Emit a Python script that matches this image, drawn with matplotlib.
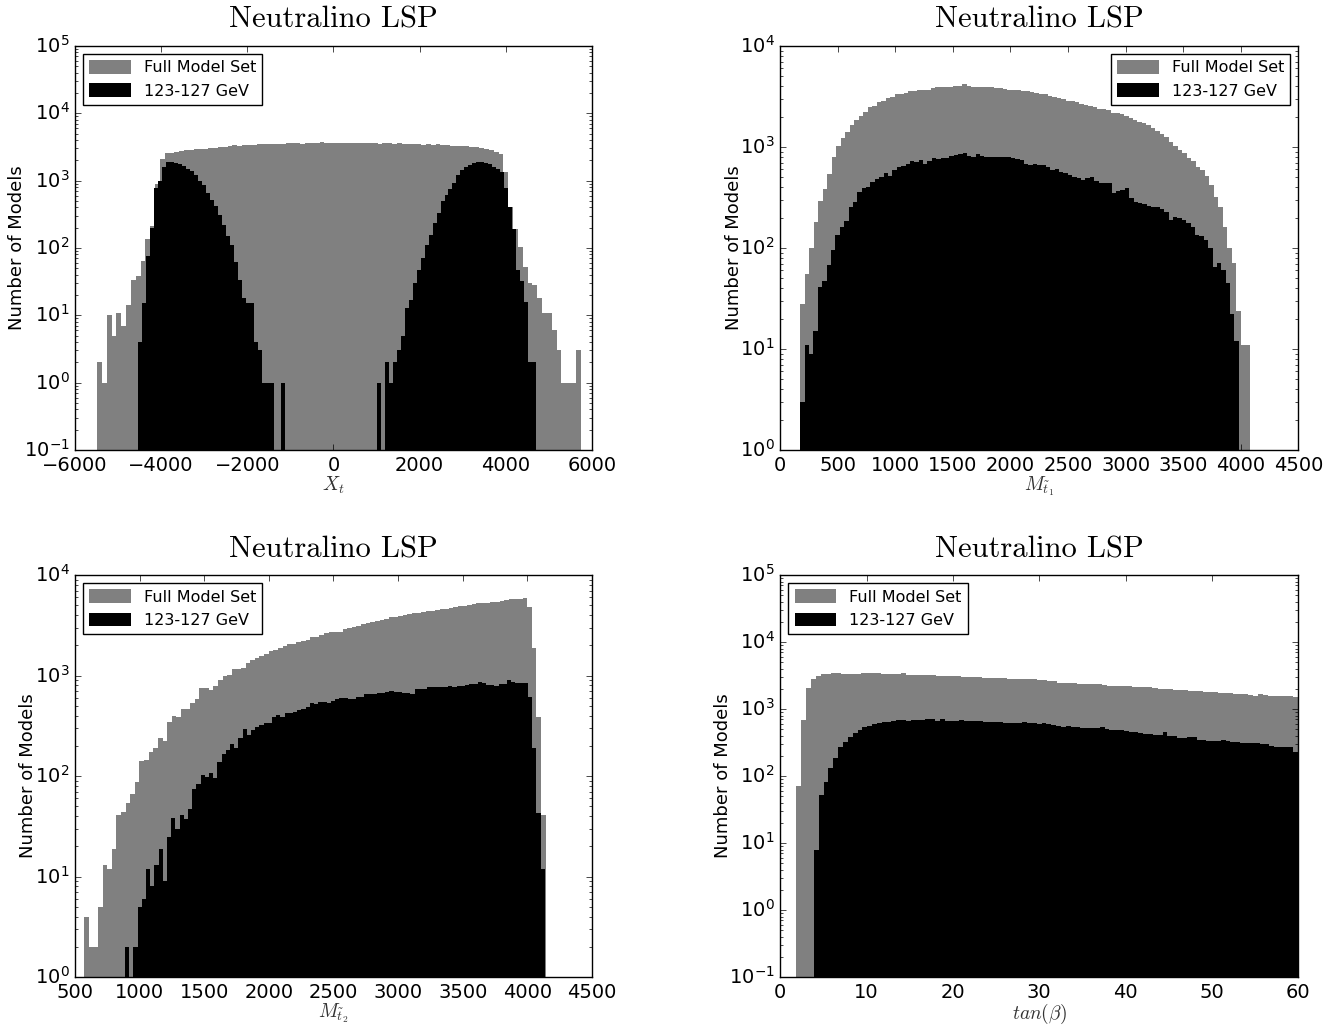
import numpy as np
import matplotlib
matplotlib.use("Agg")
import matplotlib.pyplot as plt

# X_t : range covered by the bins and counts in each bin
xt_full_range = (-5490, 5740)
xt_full = [2, 1, 10, 5, 11, 7, 14, 33, 38, 64,
           138, 210, 900, 2100, 2550, 2600, 2680, 2750, 2820, 2850,
           2900, 2950, 2990, 3050, 3100, 3150, 3200, 3250, 3350, 3300,
           3400, 3380, 3420, 3450, 3470, 3500, 3480, 3520, 3500, 3560,
           3560, 3600, 3550, 3620, 3600, 3650, 3700, 3620, 3650, 3600,
           3580, 3620, 3560, 3600, 3650, 3560, 3600, 3560, 3520, 3560,
           3600, 3520, 3560, 3480, 3520, 3450, 3480, 3420, 3450, 3400,
           3450, 3380, 3350, 3320, 3280, 3300, 3250, 3200, 3150, 3050,
           2980, 2850, 2700, 2450, 1360, 400, 190, 105, 53, 30,
           28, 18, 11, 11, 6, 3, 1, 1, 1, 3]
xt_higgs_range = (-4530, 4700)
xt_higgs = [4, 15, 76, 200, 770, 1000, 1600, 1860, 1860, 1800,
            1740, 1650, 1470, 1380, 1210, 1000, 860, 660, 516, 415,
            307, 220, 150, 110, 62, 34, 18, 15, 15, 4,
            3, 1, 1, 1, 0, 0, 1, 0, 0, 0,
            0, 0, 0, 0, 0, 0, 0, 0, 0, 0,
            0, 0, 0, 0, 0, 0, 0, 0, 0, 0,
            1, 0, 2, 1, 2, 3, 5, 13, 17, 30,
            47, 72, 110, 155, 233, 327, 490, 612, 740, 935,
            1210, 1440, 1585, 1710, 1800, 1860, 1900, 1850, 1750, 1610,
            1500, 1360, 770, 410, 190, 47, 32, 16, 2, 2]

# lighter stop mass
mt1_full_range = (174, 4080)
mt1_full = [28, 55, 100, 182, 290, 380, 540, 790, 1020, 1220,
            1420, 1650, 1850, 2030, 2240, 2470, 2540, 2760, 2850, 3030,
            3130, 3320, 3380, 3420, 3590, 3600, 3650, 3650, 3700, 3800,
            3950, 3900, 3900, 3950, 4000, 4050, 4170, 4000, 3950, 3950,
            3900, 3950, 3900, 3800, 3800, 3750, 3700, 3650, 3700, 3600,
            3580, 3500, 3450, 3380, 3330, 3200, 3150, 3080, 2990, 2880,
            2840, 2780, 2670, 2600, 2540, 2470, 2370, 2400, 2310, 2190,
            2150, 2120, 2030, 1940, 1850, 1780, 1740, 1650, 1530, 1440,
            1340, 1250, 1130, 1020, 935, 875, 770, 720, 640, 595,
            510, 420, 322, 257, 162, 99, 71, 24, 11, 11]
mt1_higgs_range = (174, 3984)
mt1_higgs = [3, 11, 9, 15, 41, 47, 68, 95, 135, 162,
             186, 257, 283, 355, 390, 400, 445, 480, 500, 555,
             515, 590, 638, 650, 685, 725, 715, 740, 685, 725,
             770, 760, 780, 770, 815, 825, 845, 880, 815, 790,
             845, 815, 790, 800, 790, 800, 790, 790, 770, 760,
             735, 685, 660, 685, 670, 665, 640, 590, 600, 570,
             550, 530, 508, 490, 471, 490, 500, 455, 440, 435,
             440, 353, 370, 375, 390, 310, 283, 280, 270, 263,
             255, 255, 245, 229, 190, 204, 196, 190, 176, 162,
             135, 130, 120, 100, 65, 71, 60, 45, 22, 12]

# heavier stop mass
mt2_full_range = (570, 4142)
mt2_full = [4, 2, 2, 5, 13, 12, 19, 41, 44, 54,
            67, 88, 142, 145, 174, 190, 237, 225, 347, 395,
            390, 462, 470, 528, 580, 746, 760, 725, 790, 900,
            1000, 1010, 1150, 1170, 1200, 1320, 1425, 1500, 1550, 1640,
            1740, 1800, 1870, 1960, 2050, 2080, 2180, 2200, 2240, 2400,
            2420, 2520, 2630, 2720, 2720, 2730, 2880, 2950, 3030, 3130,
            3230, 3370, 3440, 3520, 3560, 3690, 3790, 3850, 3920, 4000,
            4090, 4160, 4230, 4300, 4390, 4420, 4490, 4560, 4600, 4660,
            4840, 4920, 4960, 5030, 5110, 5220, 5220, 5300, 5340, 5340,
            5540, 5630, 5720, 5760, 5760, 5860, 4840, 1890, 388, 41]
mt2_higgs_range = (887, 4135)
mt2_higgs = [2, 0, 2, 5, 6, 12, 8, 13, 19, 9,
             25, 38, 30, 41, 37, 47, 75, 83, 102, 98,
             108, 95, 139, 166, 182, 210, 190, 237, 292, 256,
             290, 310, 320, 334, 340, 384, 405, 384, 420, 425,
             435, 454, 470, 490, 528, 520, 540, 551, 528, 563,
             590, 593, 593, 580, 580, 616, 616, 650, 650, 650,
             665, 665, 690, 707, 690, 690, 675, 665, 660, 730,
             730, 740, 765, 765, 770, 776, 776, 790, 776, 786,
             786, 800, 822, 822, 867, 850, 805, 800, 786, 815,
             822, 900, 867, 850, 835, 835, 616, 189, 43, 12]

# tan(beta)
tb_full_range = (1.78, 60)
tb_full = [72, 685, 2040, 2770, 3110, 3290, 3290, 3410, 3410, 3290,
           3290, 3290, 3290, 3410, 3410, 3410, 3410, 3350, 3290, 3290,
           3350, 3410, 3200, 3200, 3200, 3250, 3200, 3200, 3150, 3100,
           3100, 3100, 3100, 3050, 3000, 3030, 3000, 2950, 2950, 2950,
           2900, 2900, 2850, 2850, 2800, 2800, 2770, 2770, 2700, 2700,
           2610, 2610, 2470, 2470, 2470, 2420, 2380, 2380, 2380, 2350,
           2350, 2300, 2220, 2220, 2220, 2200, 2200, 2150, 2120, 2120,
           2100, 2050, 1980, 2000, 1980, 1950, 1950, 1900, 1880, 1830,
           1830, 1800, 1800, 1780, 1750, 1730, 1730, 1700, 1680, 1650,
           1600, 1580, 1700, 1600, 1580, 1580, 1570, 1560, 1550, 1530]
tb_higgs_range = (3.9, 60)
tb_higgs = [8, 52, 82, 130, 184, 274, 325, 386, 433, 486,
            545, 560, 600, 625, 640, 650, 662, 680, 680, 670,
            680, 685, 685, 700, 700, 662, 710, 670, 670, 670,
            680, 670, 660, 655, 655, 650, 650, 640, 640, 625,
            620, 615, 610, 640, 610, 610, 600, 610, 600, 577,
            560, 545, 560, 545, 535, 520, 520, 520, 520, 535,
            510, 486, 486, 486, 470, 460, 460, 440, 424, 424,
            415, 410, 460, 400, 390, 365, 365, 378, 378, 345,
            345, 337, 337, 337, 345, 330, 325, 325, 314, 314,
            306, 306, 300, 300, 280, 268, 268, 274, 274, 225]


plt.style.use('classic')
plt.rcParams['figure.facecolor'] = 'white'
plt.rcParams['savefig.facecolor'] = 'white'
plt.rcParams['xtick.labelsize'] = 14
plt.rcParams['ytick.labelsize'] = 14


def draw_hist(ax, rng, counts, color, label):
    edges = np.linspace(rng[0], rng[1], len(counts) + 1)
    centers = (edges[:-1] + edges[1:]) / 2
    ax.hist(centers, bins=edges, weights=counts, histtype='stepfilled',
            color=color, lw=0, log=True, label=label)


fig = plt.figure(figsize=(13.42, 10.28), dpi=100)

panels = [
    ([0.0559, 0.5623, 0.3852, 0.393], xt_full_range, xt_full, xt_higgs_range, xt_higgs,
     (-6000, 6000), (0.1, 1e5), r'$X_t$', 'upper left'),
    ([0.5814, 0.5623, 0.3860, 0.393], mt1_full_range, mt1_full, mt1_higgs_range, mt1_higgs,
     (0, 4500), (1, 1e4), r'$M_{\tilde{t}_1}$', 'upper right'),
    ([0.0559, 0.0496, 0.3852, 0.391], mt2_full_range, mt2_full, mt2_higgs_range, mt2_higgs,
     (500, 4500), (1, 1e4), r'$M_{\tilde{t}_2}$', 'upper left'),
    ([0.5814, 0.0496, 0.3860, 0.391], tb_full_range, tb_full, tb_higgs_range, tb_higgs,
     (0, 60), (0.1, 1e5), r'$tan(\beta)$', 'upper left'),
]

for pos, frng, full, hrng, higgs, xlim, ylim, xlabel, loc in panels:
    ax = fig.add_axes(pos)
    draw_hist(ax, frng, full, '#808080', 'Full Model Set')
    draw_hist(ax, hrng, higgs, 'black', '123-127 GeV')
    ax.set_xlim(xlim)
    ax.set_ylim(ylim)
    ax.set_title('Neutralino LSP', fontsize=22, fontfamily='cmr10', pad=13)
    ax.set_xlabel(xlabel, fontsize=14, color='#333333', labelpad=0)
    ax.set_ylabel('Number of Models', fontsize=13, labelpad=-2)
    ax.legend(loc=loc, fontsize=11.5, handlelength=2.6, handleheight=0.9)

fig.savefig('out.png', dpi=100)
